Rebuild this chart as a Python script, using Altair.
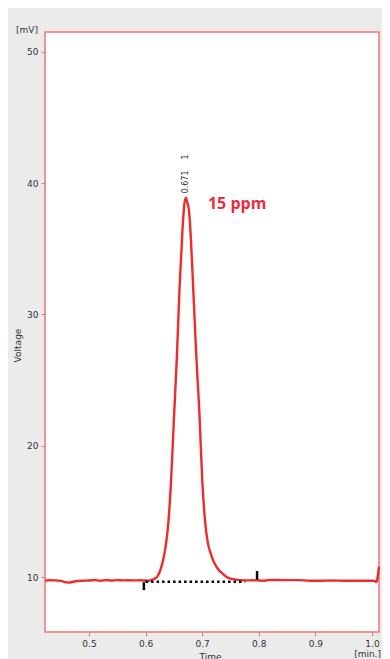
import altair as alt
import pandas as pd

# ---- data ----
times = [0.4223, 0.43, 0.44, 0.45, 0.46, 0.465, 0.47, 0.48, 0.49, 0.50, 0.51, 0.52, 0.53,
         0.54, 0.55, 0.56, 0.57, 0.58, 0.59, 0.60, 0.605, 0.61, 0.615, 0.62, 0.625,
         0.63, 0.635, 0.640, 0.645, 0.650, 0.655, 0.660, 0.665, 0.668, 0.671, 0.674,
         0.677, 0.680, 0.685, 0.690, 0.695, 0.700, 0.705, 0.710, 0.715, 0.720, 0.725,
         0.730, 0.735, 0.740, 0.745, 0.750, 0.760, 0.770, 0.780, 0.790, 0.800, 0.810,
         0.820, 0.830, 0.850, 0.870, 0.890, 0.910, 0.930, 0.950, 0.970, 0.990, 1.000,
         1.005, 1.007, 1.009, 1.011, 1.0124]
voltage = [9.72, 9.75, 9.74, 9.70, 9.60, 9.57, 9.62, 9.70, 9.72, 9.73, 9.77, 9.72, 9.77,
           9.73, 9.76, 9.74, 9.75, 9.74, 9.75, 9.73, 9.72, 9.76, 9.85, 10.0, 10.4,
           11.1, 12.2, 14.0, 17.3, 22.0, 26.5, 32.0, 36.3, 38.2, 38.9, 38.5,
           37.8, 35.8, 31.2, 26.5, 22.6, 17.5, 14.3, 12.6, 11.8, 11.2, 10.8,
           10.5, 10.3, 10.1, 9.95, 9.88, 9.80, 9.76, 9.74, 9.75, 9.73, 9.72,
           9.78, 9.77, 9.76, 9.76, 9.72, 9.72, 9.73, 9.72, 9.72, 9.72, 9.72,
           9.70, 9.62, 9.75, 10.3, 10.8]

baseline_start = [0.600]
baseline_end = [0.776]
baseline_level = [9.63]

marker_t = [0.597, 0.797]
marker_lo = [9.0, 9.8]
marker_hi = [9.6, 10.45]

peak_t = [0.671]
peak_label = ["0.671"]
peak_label_y = [40.1]
peak_num = ["1"]
peak_num_y = [42.0]

conc_text = ["15 ppm"]
conc_t = [0.7102]
conc_y = [38.4]

x_ticks = [0.5, 0.6, 0.7, 0.8, 0.9, 1.0]
y_ticks = [10, 20, 30, 40, 50]

X_DOMAIN = [0.4223, 1.0124]
Y_DOMAIN = [5.81, 51.52]
RED = "#ee2b2b"
BORDER = "#f07474"
FONT = "DejaVu Sans"

W, H = 334, 600

sig = pd.DataFrame({"t": times, "v": voltage})
base = pd.DataFrame({"t": baseline_start, "t2": baseline_end, "v": baseline_level})
marks = pd.DataFrame({"t": marker_t, "lo": marker_lo, "hi": marker_hi})
plab = pd.DataFrame({"t": peak_t, "lab": peak_label, "y": peak_label_y,
                     "num": peak_num, "ny": peak_num_y})
conc = pd.DataFrame({"t": conc_t, "y": conc_y, "txt": conc_text})

xs = alt.Scale(domain=X_DOMAIN, nice=False, zero=False)
ys = alt.Scale(domain=Y_DOMAIN, nice=False, zero=False)

x_axis = alt.Axis(values=x_ticks, format=".1f", title="Time", titleX=165, titleY=20,
                  titleBaseline="top", titleAlign="center", titleFontSize=9,
                  titleFontWeight="normal", titleColor="#333", titleFont=FONT,
                  labelPadding=3)
y_axis = alt.Axis(values=y_ticks, format="d", title="Voltage", titleX=-28, titleY=313,
                  titleAngle=270, titleAlign="center", titleBaseline="middle",
                  titleFontSize=9, titleFontWeight="normal", titleColor="#333",
                  titleFont=FONT, labelPadding=3)

line = alt.Chart(sig).mark_line(color=RED, strokeWidth=2.4, interpolate="monotone").encode(
    x=alt.X("t:Q", scale=xs, axis=x_axis),
    y=alt.Y("v:Q", scale=ys, axis=y_axis),
)

dotted = alt.Chart(base).mark_rule(color="black", strokeWidth=2.5, strokeDash=[2.5, 3]).encode(
    x="t:Q", x2="t2:Q", y="v:Q"
)

ticks = alt.Chart(marks).mark_rule(color="black", strokeWidth=2.5).encode(
    x="t:Q", y="lo:Q", y2="hi:Q"
)

lab1 = alt.Chart(plab).mark_text(angle=270, fontSize=8, font=FONT, color="#333",
                                 align="center", baseline="middle").encode(
    x="t:Q", y="y:Q", text="lab:N"
)
lab2 = alt.Chart(plab).mark_text(angle=270, fontSize=8, font=FONT, color="#333",
                                 align="center", baseline="middle").encode(
    x="t:Q", y="ny:Q", text="num:N"
)

conc_lab = alt.Chart(conc).mark_text(fontSize=16, font="Open Sans", fontWeight="bold",
                                     color="#ee2b3b", align="left", baseline="middle").encode(
    x="t:Q", y="y:Q", text="txt:N"
)

mv = alt.Chart(pd.DataFrame({"s": ["[mV]"]})).mark_text(
    fontSize=9, font=FONT, color="#333", align="right", baseline="middle"
).encode(x=alt.value(-7), y=alt.value(-2), text="s:N")

mn = alt.Chart(pd.DataFrame({"s": ["[min.]"], "t": [1.0]})).mark_text(
    fontSize=9, font=FONT, color="#333", align="right", baseline="top"
).encode(x=alt.value(336), y=alt.value(618), text="s:N")

chart = alt.layer(line, dotted, ticks, lab1, lab2, conc_lab, mv, mn).properties(
    width=W, height=H,
    autosize=alt.AutoSizeParams(type="none"),
    padding={"left": 37, "top": 24, "right": 3, "bottom": 27},
    background="#ebebeb",
).configure_view(
    fill="white", stroke=BORDER, strokeWidth=1.5
).configure_axis(
    domain=False, grid=False, tickColor=BORDER, tickSize=4, tickWidth=1,
    labelFont=FONT, labelFontSize=9, labelColor="#333"
)

chart.save("out.html", embed_options={"renderer": "svg", "actions": False})
